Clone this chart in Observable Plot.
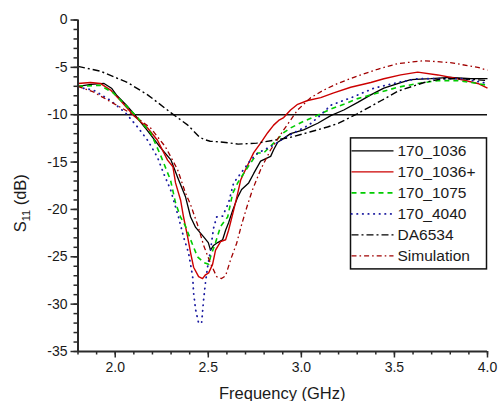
<!DOCTYPE html>
<html>
<head>
<meta charset="utf-8">
<script src="https://cdn.jsdelivr.net/npm/d3@7"></script>
<script src="https://cdn.jsdelivr.net/npm/@observablehq/plot@0.6"></script>
<style>
  html, body { margin: 0; padding: 0; background: #fff; }
  #chart { width: 499px; height: 401px; overflow: hidden; }
  #chart svg { display: block; }
</style>
</head>
<body>
<div id="chart"></div>
<script>
// Axis ticks
const xTicks = [2.0, 2.5, 3.0, 3.5, 4.0];
const yTicks = [0, -5, -10, -15, -20, -25, -30, -35];
const xMinorTicks = d3.range(18, 41).map(d => d / 10);
const yMinorTicks = d3.range(-35, 1);
const matchLevel = -10; // dB reference line

// Measured / simulated reflection coefficient, [frequency GHz, S11 dB]
const s170_1036 = [
  [1.80,-7.0],[1.87,-6.8],[1.94,-6.7],[1.98,-7.2],[2.01,-8.0],[2.06,-9.0],[2.10,-9.9],
  [2.17,-11.6],[2.24,-13.4],[2.30,-14.8],[2.335,-16.6],[2.378,-18.7],[2.405,-20.8],
  [2.432,-21.9],[2.475,-22.9],[2.50,-23.5],[2.512,-24.3],[2.528,-23.8],[2.55,-23.5],
  [2.577,-23.2],[2.593,-22.2],[2.609,-21.4],[2.631,-20.1],[2.658,-18.7],[2.679,-17.9],
  [2.717,-17.2],[2.744,-16.2],[2.781,-14.9],[2.835,-14.4],[2.851,-13.7],[2.873,-12.9],
  [2.905,-12.5],[2.942,-12.0],[3.012,-11.6],[3.088,-10.9],[3.158,-10.1],[3.228,-9.5],
  [3.303,-8.7],[3.373,-7.9],[3.443,-7.2],[3.534,-6.6],[3.588,-6.3],[3.695,-6.2],
  [3.80,-6.05],[3.91,-6.2],[4.0,-6.2]
];
const s170_1036p = [
  [1.80,-6.7],[1.867,-6.6],[1.92,-6.7],[1.975,-7.4],[2.028,-8.5],[2.098,-10.05],[2.174,-11.4],
  [2.227,-12.7],[2.281,-14.8],[2.31,-15.5],[2.324,-17.2],[2.351,-19.0],[2.367,-20.8],
  [2.389,-22.9],[2.405,-24.6],[2.421,-26.1],[2.448,-27.1],[2.469,-27.3],[2.485,-26.9],
  [2.502,-26.7],[2.523,-25.8],[2.539,-24.3],[2.566,-23.4],[2.593,-23.2],[2.609,-22.2],
  [2.636,-20.1],[2.658,-18.3],[2.674,-16.9],[2.69,-16.2],[2.717,-15.1],[2.744,-14.0],
  [2.781,-13.0],[2.819,-11.9],[2.851,-11.1],[2.878,-10.6],[2.905,-10.3],[2.942,-9.5],
  [2.98,-8.9],[3.034,-8.5],[3.104,-8.2],[3.174,-7.7],[3.265,-7.1],[3.373,-6.6],
  [3.443,-6.2],[3.534,-5.8],[3.625,-5.5],[3.733,-5.8],[3.84,-6.2],[3.948,-6.7],[4.0,-7.2]
];
const s170_1075 = [
  [1.80,-7.0],[1.92,-6.9],[1.99,-7.7],[2.066,-9.2],[2.12,-10.3],[2.19,-11.9],[2.244,-14.3],
  [2.297,-16.9],[2.324,-19.3],[2.351,-20.8],[2.378,-21.8],[2.405,-23.2],[2.442,-25.0],
  [2.475,-25.6],[2.502,-25.8],[2.512,-25.0],[2.539,-23.5],[2.566,-21.8],[2.604,-20.8],
  [2.631,-18.3],[2.658,-17.2],[2.69,-16.2],[2.727,-15.1],[2.765,-14.05],[2.797,-14.05],
  [2.851,-13.0],[2.905,-11.9],[2.942,-11.4],[3.012,-10.7],[3.088,-10.05],[3.158,-9.4],
  [3.228,-8.9],[3.303,-8.3],[3.41,-7.7],[3.518,-7.1],[3.625,-6.7],[3.733,-6.4],
  [3.84,-6.4],[3.948,-6.7],[4.0,-6.9]
];
const s170_4040 = [
  [1.80,-7.1],[1.883,-7.4],[1.975,-8.5],[2.055,-9.8],[2.12,-11.3],[2.174,-12.7],[2.227,-14.5],
  [2.26,-16.2],[2.297,-17.9],[2.313,-19.0],[2.34,-20.8],[2.367,-22.9],[2.394,-24.6],
  [2.416,-27.1],[2.421,-28.8],[2.432,-30.6],[2.448,-32.0],[2.464,-32.0],[2.475,-29.5],
  [2.485,-27.7],[2.496,-26.1],[2.512,-24.3],[2.528,-22.0],[2.545,-20.8],[2.577,-20.7],
  [2.609,-19.3],[2.636,-17.2],[2.674,-16.2],[2.727,-14.8],[2.765,-14.05],[2.851,-13.2],
  [2.905,-12.5],[2.98,-11.7],[3.04,-11.1],[3.10,-10.1],[3.158,-9.0],[3.281,-8.1],
  [3.389,-7.2],[3.518,-6.6],[3.625,-6.2],[3.755,-6.2],[3.873,-6.2],[4.0,-6.7]
];
const sDA6534 = [
  [1.80,-4.9],[1.92,-5.4],[2.066,-6.6],[2.174,-7.9],[2.30,-9.8],[2.39,-11.1],[2.45,-12.3],
  [2.475,-12.6],[2.51,-12.8],[2.58,-12.9],[2.66,-13.1],[2.76,-13.0],[2.85,-12.7],
  [2.94,-12.4],[3.05,-11.8],[3.14,-11.3],[3.20,-10.9],[3.30,-9.9],[3.43,-8.5],
  [3.52,-7.5],[3.66,-6.6],[3.755,-6.2],[3.87,-6.2],[4.0,-6.4]
];
const sSimulation = [
  [1.80,-7.0],[1.883,-7.6],[1.99,-8.8],[2.08,-9.8],[2.19,-11.4],[2.27,-13.4],[2.335,-15.8],
  [2.378,-18.3],[2.405,-19.5],[2.442,-21.6],[2.475,-23.8],[2.512,-25.7],[2.545,-27.1],
  [2.571,-27.3],[2.593,-27.0],[2.62,-25.3],[2.652,-23.6],[2.679,-21.6],[2.711,-19.5],
  [2.738,-17.9],[2.781,-15.8],[2.835,-13.7],[2.905,-11.6],[2.98,-9.5],[3.05,-8.2],
  [3.12,-7.4],[3.195,-6.7],[3.303,-5.9],[3.41,-5.2],[3.518,-4.6],[3.658,-4.3],
  [3.80,-4.5],[3.948,-5.0],[4.0,-5.3]
];

// Line styles per trace
const traces = [
  {name: "170_1036",   data: s170_1036,   stroke: "#000000", dash: null,        width: 1.3, cap: "butt"},
  {name: "170_1036+",  data: s170_1036p,  stroke: "#cc0000", dash: null,        width: 1.4, cap: "butt"},
  {name: "170_1075",   data: s170_1075,   stroke: "#00cc00", dash: "5,4",       width: 1.6, cap: "butt"},
  {name: "170_4040",   data: s170_4040,   stroke: "#1a1aa0", dash: "0.4,5.2",   width: 1.8, cap: "round"},
  {name: "DA6534",     data: sDA6534,     stroke: "#000000", dash: "7,3,2,3",   width: 1.4, cap: "butt"},
  {name: "Simulation", data: sSimulation, stroke: "#a00000", dash: "5,3,1.6,3", width: 1.3, cap: "butt"}
];

const font = "'Liberation Sans', Arial, Helvetica, sans-serif";
const axisColor = "#2a2a2a";

const chart = Plot.plot({
  width: 499,
  height: 401,
  marginTop: 19.5,
  marginLeft: 77.5,
  marginRight: 12,
  marginBottom: 50,
  x: {domain: [1.8, 4.0]},
  y: {domain: [-35, 0]},
  style: {fontFamily: font, fontSize: "14px", color: "#1a1a1a", background: "#fff"},
  marks: [
    Plot.ruleY([matchLevel], {stroke: "#111", strokeWidth: 1.5}),
    ...traces.map(t => Plot.line(t.data, {
      x: d => d[0], y: d => d[1],
      stroke: t.stroke, strokeWidth: t.width,
      strokeDasharray: t.dash || undefined,
      strokeLinecap: t.cap,
      curve: "linear"
    })),
    Plot.axisX({ticks: xMinorTicks, tickFormat: () => "", tickSize: 3.5, label: null, stroke: axisColor, strokeWidth: 1.5}),
    Plot.axisX({ticks: xTicks, tickFormat: d => d.toFixed(1), tickSize: 6.5, tickPadding: 4,
                label: null, stroke: axisColor, strokeWidth: 1.5, fontSize: 14}),
    Plot.axisY({ticks: yMinorTicks, tickFormat: () => "", tickSize: 4, label: null, stroke: axisColor, strokeWidth: 1.5}),
    Plot.axisY({ticks: yTicks, tickFormat: d => String(d), tickSize: 7, tickPadding: 3.5,
                label: null, stroke: axisColor, strokeWidth: 1.5, fontSize: 14}),
    Plot.ruleX([1.8], {stroke: axisColor, strokeWidth: 2}),
    Plot.ruleY([-35], {stroke: axisColor, strokeWidth: 2})
  ]
});

document.getElementById("chart").appendChild(chart);

// Axis titles and the in-plot legend
const svg = d3.select(chart);
const xs = chart.scale("x"), ys = chart.scale("y");
const [x0, x1] = xs.range, [y0, y1] = ys.range; // y0 bottom, y1 top

svg.append("text")
  .attr("x", (x0 + x1) / 2).attr("y", y0 + 47.5)
  .attr("text-anchor", "middle")
  .attr("font-family", font).attr("font-size", 16.5).attr("fill", "#1a1a1a")
  .text("Frequency (GHz)");

const yt = svg.append("text")
  .attr("transform", `translate(26,${(y0 + y1) / 2 + 18}) rotate(-90)`)
  .attr("text-anchor", "middle")
  .attr("font-family", font).attr("font-size", 16.5).attr("fill", "#1a1a1a");
yt.append("tspan").text("S");
yt.append("tspan").attr("font-size", 11).attr("dy", 4).text("11");
yt.append("tspan").attr("dy", -4).text(" (dB)");

const lg = svg.append("g").attr("transform", `translate(${x1 - 136.5},${ys.apply(-12.5)})`);
lg.append("rect").attr("width", 136).attr("height", 131)
  .attr("fill", "#fff").attr("stroke", "#111").attr("stroke-width", 1.5);
traces.forEach((t, i) => {
  const cy = 13 + i * 21;
  lg.append("line").attr("x1", 1).attr("x2", 43).attr("y1", cy).attr("y2", cy)
    .attr("stroke", t.stroke).attr("stroke-width", t.width)
    .attr("stroke-dasharray", t.dash)
    .attr("stroke-linecap", t.cap);
  lg.append("text").attr("x", 47).attr("y", cy).attr("dy", "0.36em")
    .attr("text-anchor", "start")
    .attr("font-family", font).attr("font-size", 15.5).attr("fill", "#1a1a1a")
    .text(t.name);
});
</script>
</body>
</html>
